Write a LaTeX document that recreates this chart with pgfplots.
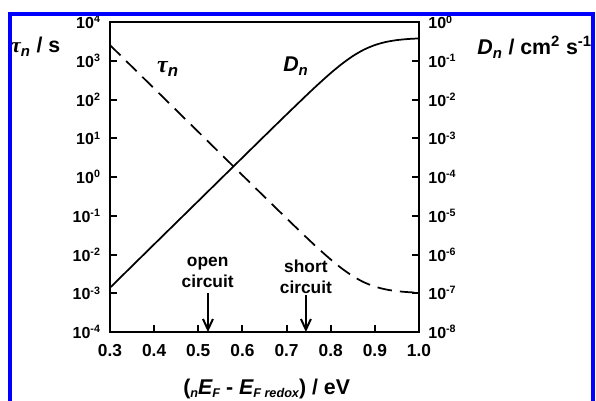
\documentclass[border=0pt]{standalone}
\usepackage{fontspec}
\setmainfont{Liberation Sans}
\newfontfamily\serifgreek{Liberation Serif}
\usepackage{pgfplots}
\pgfplotsset{compat=1.18}
\usetikzlibrary{arrows.meta}
\definecolor{frameblue}{RGB}{0,0,255}
\newcommand{\xsub}[1]{\raisebox{-2.6pt}{\fontsize{9.5}{9.5}\selectfont\itshape #1}}

\pgfplotstableread{
E tau
0.30 2570
0.35 708
0.40 195
0.45 53.7
0.50 14.8
0.55 4.07
0.60 1.12
0.65 0.309
0.70 0.0861
0.75 0.02444
0.775 0.0133
0.80 0.00746
0.825 0.00439
0.85 0.002778
0.875 0.001933
0.90 0.00149
0.925 0.001257
0.95 0.001135
0.975 0.001071
1.00 0.001037
}\tautable

\pgfplotstableread{
E D
0.30 1.39e-7
0.35 5.06e-7
0.40 1.84e-6
0.45 6.67e-6
0.50 2.42e-5
0.55 8.79e-5
0.60 3.19e-4
0.65 1.156e-3
0.70 4.16e-3
0.75 1.471e-2
0.775 2.71e-2
0.80 4.87e-2
0.825 8.35e-2
0.85 0.1338
0.875 0.1955
0.90 0.2579
0.925 0.3098
0.95 0.3464
0.975 0.3693
1.00 0.3826
}\Dtable

\begin{document}
\begin{tikzpicture}[x=1pt,y=1pt]
\path[use as bounding box] (0,0) rectangle (447,300);
\begin{scope}
\clip (0,0) rectangle (447,300);
\begin{axis}[
  at={(82.5pt,51pt)}, anchor=south west,
  scale only axis, width=231.75pt, height=232.3pt,
  xmin=0.3, xmax=1.0, ymode=log,
  axis line style={line width=1.5pt},
  major tick length=5.5pt,
  tick style={line width=1.5pt, black},
  tick align=inside,
  ymin=1e-4, ymax=1e4,
  xtick={0.3,0.4,0.5,0.6,0.7,0.8,0.9,1.0},
  xticklabels={0.3,0.4,0.5,0.6,0.7,0.8,0.9,1.0},
  xtick pos=bottom,
  ytick pos=left,
  ytick={1e-4,1e-3,1e-2,1e-1,1,1e1,1e2,1e3,1e4},
  yticklabels={10\textsuperscript{-4},10\textsuperscript{-3},10\textsuperscript{-2},10\textsuperscript{-1},10\textsuperscript{0},10\textsuperscript{1},10\textsuperscript{2},10\textsuperscript{3},10\textsuperscript{4}},
  xticklabel style={font=\bfseries\fontsize{13}{13}\selectfont, yshift=-6pt},
  yticklabel style={font=\bfseries\fontsize{12}{12}\selectfont, xshift=-3.5pt},
  yminorticks=false, xminorticks=false,
]
\addplot[black, line width=1.3pt, dash pattern=on 11pt off 6pt, smooth] table[x=E,y=tau] {\tautable};
\node[font=\bfseries\fontsize{13}{15.5}\selectfont, align=center] at (rel axis cs:0.316,0.193) {open\\circuit};
\draw[line width=1.5pt, -{Straight Barb[length=8pt,width=7.5pt]}] (rel axis cs:0.317,0.126) -- (rel axis cs:0.317,0.0);
\node[font=\bfseries\fontsize{13}{15.5}\selectfont, align=center] at (rel axis cs:0.634,0.178) {short\\circuit};
\draw[line width=1.5pt, -{Straight Barb[length=8pt,width=7.5pt]}] (rel axis cs:0.634,0.119) -- (rel axis cs:0.634,0.0);
\node[font=\bfseries\fontsize{18}{18}\selectfont, anchor=base west, inner sep=0pt] at (rel axis cs:0.152,0.837) {{\serifgreek\itshape τ}\textsubscript{\itshape n}};
\node[font=\bfseries\fontsize{16}{16}\selectfont, anchor=base west, inner sep=0pt] at (rel axis cs:0.56,0.84) {{\itshape D}\textsubscript{\itshape n}};
\end{axis}
\begin{axis}[
  at={(82.5pt,51pt)}, anchor=south west,
  scale only axis, width=231.75pt, height=232.3pt,
  xmin=0.3, xmax=1.0, ymode=log,
  axis line style={line width=1.5pt},
  major tick length=5.5pt,
  tick style={line width=1.5pt, black},
  tick align=inside,
  ymin=1e-8, ymax=1,
  axis x line=none,
  axis y line*=right,
  ytick={1e-8,1e-7,1e-6,1e-5,1e-4,1e-3,1e-2,1e-1,1},
  yticklabels={10\textsuperscript{-8},10\textsuperscript{-7},10\textsuperscript{-6},10\textsuperscript{-5},10\textsuperscript{-4},10\textsuperscript{-3},10\textsuperscript{-2},10\textsuperscript{-1},10\textsuperscript{0}},
  yticklabel style={font=\bfseries\fontsize{12}{12}\selectfont, xshift=3.5pt},
  yminorticks=false,
]
\addplot[black, line width=1.3pt, smooth] table[x=E,y=D] {\Dtable};
\end{axis}
\node[anchor=west, font=\bfseries\fontsize{16}{16}\selectfont] at (5,264.75) {{\serifgreek\itshape τ}\textsubscript{\itshape n} / s};
\draw[frameblue, line width=3pt] (7.7,-10) -- (7.7,289.5) -- (444.75,289.5) -- (444.75,-10);
\node[anchor=west, font=\bfseries\fontsize{16}{16}\selectfont] at (354.5,264.75) {{\itshape D}\textsubscript{\itshape n} / cm\textsuperscript{2} s\textsuperscript{-1}};
\node[anchor=base, font=\bfseries\fontsize{16}{16}\selectfont] at (200,4.2) {(\xsub{n}{\itshape E}\xsub{F} - {\itshape E}\xsub{F redox}) / eV};
\end{scope}
\end{tikzpicture}
\end{document}
